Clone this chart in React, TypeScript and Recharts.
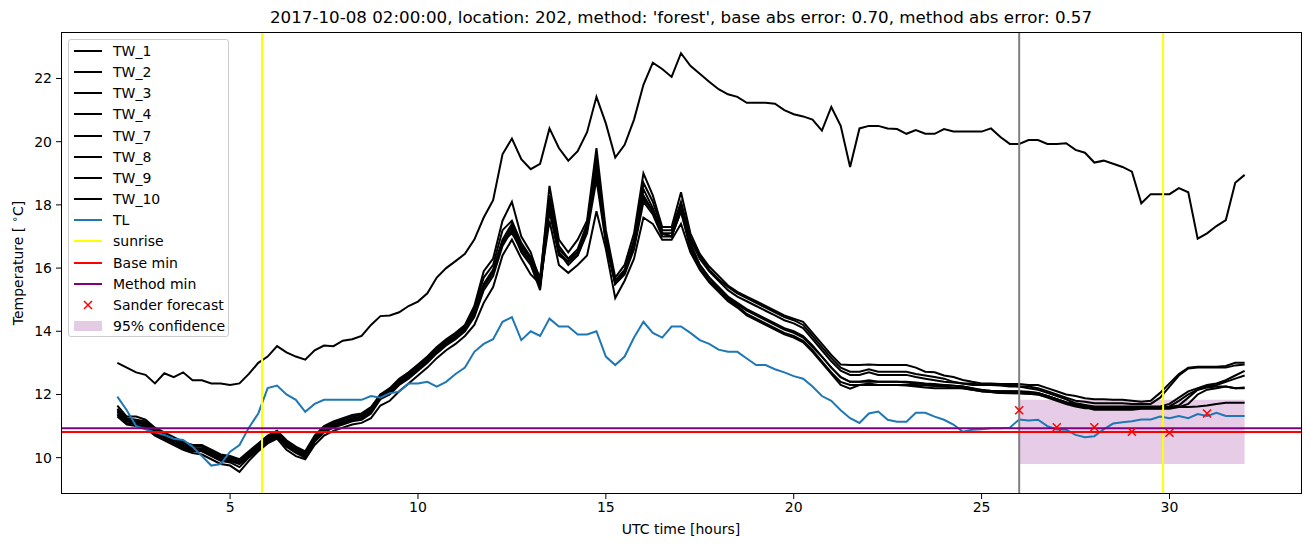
import React from "react"
import {
  ComposedChart,
  Line,
  Scatter,
  XAxis,
  YAxis,
  ReferenceLine,
  ReferenceArea,
} from "recharts"

const W = 1311
const H = 547
const FONT = "DejaVu Sans"

// time grid in hours, 15 minute steps from 02:00 to 32:00
const hours = Array.from({ length: 121 }, (_, i) => 2 + i * 0.25)

const tw1 = [
  13.0, 12.85, 12.7, 12.62, 12.35, 12.67, 12.55, 12.7, 12.45, 12.45, 12.35, 12.35,
  12.3, 12.35, 12.65, 13.0, 13.2, 13.53, 13.33, 13.2, 13.1, 13.4, 13.55, 13.53,
  13.7, 13.75, 13.85, 14.2, 14.48, 14.5, 14.6, 14.8, 14.94, 15.2, 15.7, 16.0,
  16.22, 16.45, 16.9, 17.6, 18.15, 19.6, 20.1, 19.45, 19.13, 19.3, 20.42, 19.8,
  19.4, 19.7, 20.3, 21.42, 20.58, 19.5, 19.9, 20.7, 21.8, 22.5, 22.3, 22.05,
  22.8, 22.4, 22.15, 21.9, 21.66, 21.5, 21.42, 21.23, 21.23, 21.23, 21.2, 21.0,
  20.87, 20.8, 20.7, 20.35, 21.1, 20.5, 19.2, 20.42, 20.5, 20.5, 20.42, 20.4,
  20.25, 20.37, 20.25, 20.25, 20.4, 20.32, 20.32, 20.32, 20.32, 20.42, 20.15, 19.93,
  19.93, 20.05, 20.05, 19.93, 19.93, 19.95, 19.74, 19.65, 19.34, 19.4, 19.3, 19.2,
  19.05, 18.05, 18.34, 18.34, 18.34, 18.53, 18.4, 16.93, 17.1, 17.33, 17.52, 18.7,
  18.95,
]

const tw2 = [
  11.65, 11.3, 11.3, 11.2, 10.95, 10.8, 10.65, 10.5, 10.4, 10.4, 10.25, 10.1, 10.05, 9.95,
  10.2, 10.45, 10.7, 10.85, 10.55, 10.35, 10.2, 10.7, 11.0, 11.15, 11.25, 11.35, 11.4, 11.6,
  12.0, 12.2, 12.5, 12.7, 12.95, 13.2, 13.5, 13.75, 13.95, 14.2, 14.8, 15.9, 16.3, 17.5,
  18.1, 17.0, 16.5, 15.6, 18.6, 16.9, 16.5, 16.9, 17.5, 19.8, 17.2, 15.7, 16.1, 17.1, 19.0,
  18.3, 17.3, 17.3, 18.4, 17.1, 16.45, 16.05, 15.75, 15.45, 15.25, 15.1, 14.95, 14.8, 14.65,
  14.5, 14.4, 14.3, 13.95, 13.6, 13.25, 12.95, 12.93,
  12.93, 12.95, 12.93, 12.93, 12.93, 12.93, 12.85, 12.72, 12.7, 12.6, 12.55, 12.46, 12.4, 12.35,
  12.35, 12.33, 12.33, 12.33, 12.3, 12.3, 12.2, 12.1, 12.0, 11.95, 11.88, 11.85, 11.85, 11.83,
  11.83, 11.8, 11.77, 11.8, 12.05, 12.35, 12.65, 12.85, 12.88, 12.88, 12.88, 12.9, 13.0, 13.0,
]

const tw3 = [
  11.55, 11.25, 11.2, 11.15, 10.9, 10.75, 10.6, 10.45, 10.35, 10.35, 10.2, 10.05, 10.0, 9.9,
  10.15, 10.4, 10.65, 10.8, 10.5, 10.3, 10.15, 10.65, 10.95, 11.1, 11.2, 11.3, 11.35, 11.55,
  12.0, 12.15, 12.45, 12.65, 12.9, 13.15, 13.45, 13.7, 13.9, 14.15, 14.7, 15.7, 16.1, 17.2,
  17.5, 16.8, 16.35, 15.7, 18.3, 16.7, 16.3, 16.6, 17.4, 19.5, 17.0, 15.6, 15.95, 16.9, 18.7,
  18.1, 17.2, 17.2, 18.1, 16.95, 16.4, 15.95, 15.65, 15.4, 15.2, 15.05, 14.9, 14.75, 14.6,
  14.45, 14.35, 14.2, 13.85, 13.5, 13.15, 12.85, 12.72,
  12.72, 12.8, 12.72, 12.72, 12.72, 12.72, 12.65, 12.6, 12.55, 12.5, 12.4, 12.35, 12.3, 12.3,
  12.3, 12.3, 12.3, 12.25, 12.25, 12.2, 12.1, 12.0, 11.9, 11.8, 11.77, 11.72, 11.72, 11.72,
  11.72, 11.7, 11.7, 11.7, 11.9, 12.25, 12.6, 12.82, 12.85, 12.85, 12.85, 12.85, 12.92, 12.95,
]

const tw4 = [
  11.45, 11.2, 11.1, 11.1, 10.85, 10.7, 10.55, 10.4, 10.3, 10.3, 10.15, 10.0, 9.95, 9.85,
  10.1, 10.35, 10.6, 10.75, 10.45, 10.25, 10.1, 10.6, 10.9, 11.05, 11.15, 11.25, 11.3, 11.5,
  11.95, 12.1, 12.4, 12.6, 12.85, 13.1, 13.4, 13.65, 13.85, 14.1, 14.6, 15.5, 15.95, 16.9,
  17.4, 16.7, 16.3, 15.5, 18.2, 16.6, 16.3, 16.5, 17.3, 19.3, 16.9, 15.55, 15.9, 16.8, 18.5,
  17.9, 17.1, 17.1, 18.0, 16.9, 16.3, 15.9, 15.6, 15.3, 15.1, 14.95, 14.8, 14.65, 14.5,
  14.35, 14.25, 14.1, 13.75, 13.4, 13.05, 12.75, 12.62,
  12.62, 12.7, 12.62, 12.62, 12.62, 12.62, 12.55, 12.5, 12.45, 12.4, 12.38, 12.35, 12.35, 12.3,
  12.3, 12.28, 12.25, 12.25, 12.2, 12.15, 12.05, 11.95, 11.85, 11.72, 11.67, 11.62, 11.62, 11.62,
  11.62, 11.62, 11.62, 11.62, 11.62, 11.7, 11.9, 12.1, 12.2, 12.3, 12.35, 12.45, 12.6, 12.75,
]

const tw7 = [
  11.4, 11.15, 11.1, 11.05, 10.8, 10.65, 10.5, 10.35, 10.25, 10.25, 10.1, 9.95, 9.9, 9.8,
  10.05, 10.3, 10.55, 10.7, 10.4, 10.2, 10.05, 10.55, 10.85, 11.0, 11.1, 11.2, 11.25, 11.45,
  11.9, 12.05, 12.35, 12.55, 12.8, 13.05, 13.35, 13.6, 13.8, 14.05, 14.5, 15.4, 15.85, 16.8,
  17.3, 16.6, 16.2, 15.4, 18.0, 16.5, 16.2, 16.5, 17.2, 19.0, 16.9, 15.5, 15.85, 16.7, 18.3,
  17.8, 17.1, 17.0, 17.9, 16.8, 16.1, 15.7, 15.35, 15.05, 14.85, 14.65, 14.5, 14.35, 14.2,
  14.05, 13.95, 13.8, 13.5, 13.2, 12.85, 12.55, 12.4,
  12.4, 12.45, 12.4, 12.4, 12.4, 12.4, 12.38, 12.35, 12.33, 12.3, 12.28, 12.25, 12.2, 12.1,
  12.1, 12.1, 12.1, 12.1, 12.09, 12.05, 11.95, 11.85, 11.75, 11.7, 11.65, 11.58, 11.58, 11.58,
  11.58, 11.58, 11.58, 11.58, 11.58, 11.62, 11.8, 12.0, 12.15, 12.25, 12.3, 12.4, 12.5, 12.6,
]

const tw8 = [
  11.35, 11.1, 11.05, 11.0, 10.75, 10.6, 10.45, 10.3, 10.2, 10.2, 10.05, 9.9, 9.85, 9.7,
  10.0, 10.25, 10.5, 10.65, 10.35, 10.15, 10.0, 10.5, 10.8, 10.95, 11.05, 11.15, 11.2, 11.4,
  11.85, 12.0, 12.3, 12.5, 12.75, 13.0, 13.3, 13.55, 13.75, 14.0, 14.45, 15.3, 15.75, 16.7,
  17.2, 16.5, 16.1, 15.3, 17.9, 16.5, 16.1, 16.4, 17.1, 18.8, 16.8, 15.5, 15.8, 16.6, 18.1,
  17.7, 17.0, 17.0, 17.8, 16.6, 16.0, 15.6, 15.3, 15.0, 14.8, 14.55, 14.4, 14.25, 14.1,
  13.95, 13.85, 13.7, 13.4, 13.05, 12.7, 12.4, 12.3,
  12.3, 12.35, 12.3, 12.3, 12.3, 12.3, 12.3, 12.28, 12.27, 12.25, 12.22, 12.2, 12.15, 12.1,
  12.08, 12.05, 12.05, 12.04, 12.02, 12.0, 11.9, 11.8, 11.7, 11.62, 11.56, 11.56, 11.56, 11.56,
  11.56, 11.56, 11.56, 11.56, 11.56, 11.6, 11.65, 11.9, 12.15, 12.22, 12.25, 12.25, 12.2, 12.22,
]

const tw9 = [
  11.3, 11.05, 11.0, 10.95, 10.7, 10.55, 10.4, 10.25, 10.15, 10.1, 9.95, 9.8, 9.75, 9.55,
  9.9, 10.2, 10.45, 10.6, 10.25, 10.05, 9.95, 10.4, 10.7, 10.85, 10.95, 11.05, 11.1, 11.25,
  11.65, 11.8, 12.1, 12.35, 12.6, 12.85, 13.15, 13.4, 13.6, 13.85, 14.2, 14.9, 15.4, 16.4,
  16.9, 16.3, 15.8, 15.5, 17.5, 16.1, 15.85, 16.1, 16.4, 17.8, 16.6, 15.05, 15.6, 16.3, 17.6,
  17.4, 16.9, 16.9, 17.4, 16.5, 15.95, 15.55, 15.25, 14.95, 14.75, 14.5, 14.35, 14.2, 14.05,
  13.9, 13.8, 13.65, 13.35, 13.0, 12.65, 12.3, 12.18,
  12.3, 12.3, 12.3, 12.3, 12.3, 12.28, 12.25, 12.22, 12.2, 12.2, 12.2, 12.2, 12.15, 12.1,
  12.08, 12.05, 12.04, 12.04, 12.02, 12.0, 11.95, 11.85, 11.75, 11.65, 11.6, 11.52, 11.52, 11.52,
  11.52, 11.52, 11.55, 11.55, 11.55, 11.55, 11.6, 11.7, 12.0, 12.15, 12.2, 12.25, 12.2, 12.2,
]

const tw10 = [
  11.5, 11.2, 11.15, 11.1, 10.85, 10.7, 10.5, 10.35, 10.25, 10.25, 10.1, 9.95, 9.9, 9.8,
  10.05, 10.3, 10.55, 10.7, 10.4, 10.2, 10.05, 10.55, 10.85, 11.0, 11.1, 11.2, 11.25, 11.45,
  11.9, 12.05, 12.35, 12.55, 12.8, 13.05, 13.35, 13.6, 13.8, 14.05, 14.55, 15.45, 15.9, 16.85,
  17.1, 16.6, 16.2, 15.45, 17.8, 16.4, 16.2, 16.4, 17.2, 19.1, 16.9, 15.5, 15.85, 16.7, 18.2,
  17.8, 17.1, 17.0, 17.8, 16.7, 16.1, 15.7, 15.4, 15.1, 14.9, 14.7, 14.55, 14.4, 14.25,
  14.1, 14.0, 13.85, 13.55, 13.2, 12.85, 12.55, 12.4,
  12.4, 12.4, 12.4, 12.4, 12.4, 12.38, 12.35, 12.33, 12.3, 12.3, 12.28, 12.25, 12.2, 12.15,
  12.12, 12.1, 12.1, 12.09, 12.07, 12.05, 11.95, 11.85, 11.75, 11.7, 11.65, 11.6, 11.6, 11.6,
  11.6, 11.6, 11.6, 11.6, 11.6, 11.6, 11.6, 11.6, 11.62, 11.65, 11.7, 11.74, 11.74, 11.74,
]

const tl = [
  11.93, 11.5, 11.0, 10.9, 10.8, 10.72, 10.6, 10.56, 10.35, 10.05, 9.75, 9.8,
  10.19, 10.4, 10.95, 11.4, 12.2, 12.28, 12.0, 11.83, 11.45, 11.7, 11.83, 11.83,
  11.83, 11.83, 11.83, 11.95, 11.9, 12.04, 12.09, 12.35, 12.35, 12.4, 12.25, 12.4,
  12.65, 12.85, 13.35, 13.6, 13.75, 14.3, 14.45, 13.72, 14.0, 13.85, 14.4, 14.15,
  14.15, 13.9, 13.9, 14.0, 13.2, 12.93, 13.2, 13.8, 14.3, 13.95, 13.8, 14.15,
  14.15, 13.95, 13.72, 13.6, 13.42, 13.35, 13.35, 13.14, 12.93, 12.93, 12.8, 12.7,
  12.58, 12.5, 12.25, 11.95, 11.8, 11.5, 11.25, 11.1, 11.4, 11.46, 11.2, 11.14,
  11.14, 11.42, 11.42, 11.3, 11.2, 11.05, 10.82, 10.88, 10.9, 10.93, 10.93, 10.95,
  11.21, 11.18, 11.2, 11.0, 10.89, 10.88, 10.72, 10.65, 10.68, 10.9, 11.08, 11.12,
  11.15, 11.21, 11.21, 11.3, 11.25, 11.32, 11.25, 11.38, 11.32, 11.42, 11.32, 11.32,
  11.32,
]

const sunrise = [5.85, 29.83]
const nowHour = 26
const baseMin = 10.81
const methodMin = 10.93
const forecastHours = [26, 27, 28, 29, 30, 31]
const forecastValues = [11.5, 10.96, 10.96, 10.82, 10.79, 11.4]
const confFrom = 26
const confTo = 32
const confLow = 9.8
const confHigh = 11.83

const xTicks = [5, 10, 15, 20, 25, 30]
const yTicks = [10, 12, 14, 16, 18, 20, 22]

const twSeries = [
  { key: "TW_1", values: tw1 },
  { key: "TW_2", values: tw2 },
  { key: "TW_3", values: tw3 },
  { key: "TW_4", values: tw4 },
  { key: "TW_7", values: tw7 },
  { key: "TW_8", values: tw8 },
  { key: "TW_9", values: tw9 },
  { key: "TW_10", values: tw10 },
]

const rows = hours.map((h, i) => {
  const row: Record<string, number> = { h, TL: tl[i] }
  twSeries.forEach(s => { row[s.key] = s.values[i] })
  return row
})

const forecast = forecastHours.map((h, i) => ({ h, sander: forecastValues[i] }))

const legendItems = [
  ...twSeries.map(s => ({ name: s.key, kind: "line", color: "#000000" })),
  { name: "TL", kind: "line", color: "#1f77b4" },
  { name: "sunrise", kind: "line", color: "#ffff00" },
  { name: "Base min", kind: "line", color: "#ff0000" },
  { name: "Method min", kind: "line", color: "#800080" },
  { name: "Sander forecast", kind: "x", color: "#ff0000" },
  { name: "95% confidence", kind: "patch", color: "#e3cce3" },
]

function XMark(props: any) {
  const { cx, cy } = props
  const s = 4
  return (
    <path
      d={`M${cx - s},${cy - s}L${cx + s},${cy + s}M${cx - s},${cy + s}L${cx + s},${cy - s}`}
      stroke="#ff0000"
      strokeWidth={1.5}
      fill="none"
    />
  )
}

function LegendBox() {
  return (
    <div
      style={{
        position: "absolute",
        left: 68,
        top: 39,
        width: 161,
        height: 298,
        border: "1px solid #cccccc",
        borderRadius: 3,
        background: "rgba(255,255,255,0.8)",
        boxSizing: "border-box",
        fontFamily: FONT,
        fontSize: 14,
      }}
    >
      {legendItems.map((item, i) => {
        const cy = 11 + i * 21.15
        return (
          <div key={item.name} style={{ position: "absolute", left: 0, top: cy - 10, height: 20, width: 160 }}>
            {item.kind === "line" && (
              <div style={{ position: "absolute", left: 5, top: 9, width: 28, height: 2, background: item.color }} />
            )}
            {item.kind === "x" && (
              <svg style={{ position: "absolute", left: 14, top: 5 }} width={10} height={10}>
                <path d="M1,1L9,9M1,9L9,1" stroke={item.color} strokeWidth={1.5} />
              </svg>
            )}
            {item.kind === "patch" && (
              <div style={{ position: "absolute", left: 5, top: 5, width: 28, height: 10, background: item.color }} />
            )}
            <div style={{ position: "absolute", left: 44, top: 0, lineHeight: "20px", color: "#000", whiteSpace: "nowrap" }}>
              {item.name}
            </div>
          </div>
        )
      })}
    </div>
  )
}

export default function App() {
  const tick = { fill: "#000", fontSize: 14, fontFamily: FONT }
  return (
    <div style={{ position: "absolute", left: 0, top: 0, width: W, height: H, background: "#fff" }}>
      <ComposedChart width={W} height={H} data={rows} margin={{ top: 33, right: 10, bottom: 13, left: 0 }}>
        <XAxis
          dataKey="h"
          type="number"
          domain={[0.5, 33.5]}
          ticks={xTicks}
          allowDataOverflow
          axisLine={false}
          tickLine={{ stroke: "#000" }}
          tickSize={5}
          tickMargin={3}
          height={40}
          tick={tick}
        />
        <YAxis
          type="number"
          domain={[8.85, 23.44]}
          ticks={yTicks}
          allowDataOverflow
          axisLine={false}
          tickLine={{ stroke: "#000" }}
          tickSize={5}
          tickMargin={4}
          width={61}
          tick={tick}
        />
        <ReferenceArea
          x1={confFrom}
          x2={confTo}
          y1={confLow}
          y2={confHigh}
          fill="#800080"
          fillOpacity={0.2}
          stroke="none"
        />
        {twSeries.map(s => (
          <Line
            key={s.key}
            dataKey={s.key}
            type="linear"
            stroke="#000000"
            strokeWidth={2}
            dot={false}
            isAnimationActive={false}
          />
        ))}
        <Line dataKey="TL" type="linear" stroke="#1f77b4" strokeWidth={2} dot={false} isAnimationActive={false} />
        {sunrise.map(x => (
          <ReferenceLine key={x} x={x} stroke="#ffff00" strokeWidth={2} />
        ))}
        <ReferenceLine x={nowHour} stroke="#808080" strokeWidth={2} />
        <ReferenceLine y={baseMin} stroke="#ff0000" strokeWidth={2} />
        <ReferenceLine y={methodMin} stroke="#800080" strokeWidth={2} />
        <Scatter data={forecast} dataKey="sander" shape={<XMark />} isAnimationActive={false} />
      </ComposedChart>
      <svg
        width={W}
        height={H}
        style={{ position: "absolute", left: 0, top: 0, pointerEvents: "none" }}
        fontFamily={FONT}
      >
        <rect x={61.5} y={32.5} width={1240} height={461} fill="none" stroke="#000" strokeWidth={1} />
        <text x={681} y={23} textAnchor="middle" fontSize={16.7} fill="#000">
          2017-10-08 02:00:00, location: 202, method: 'forest', base abs error: 0.70, method abs error: 0.57
        </text>
        <text x={681} y={534} textAnchor="middle" fontSize={14} fill="#000">
          UTC time [hours]
        </text>
        <text x={23} y={263} textAnchor="middle" fontSize={14} fill="#000" transform="rotate(-90 23 263)">
          <tspan>Temperature [ </tspan>
          <tspan dy={-5} fontSize={10}>∘</tspan>
          <tspan dy={5}>C]</tspan>
        </text>
      </svg>
      <LegendBox />
    </div>
  )
}
